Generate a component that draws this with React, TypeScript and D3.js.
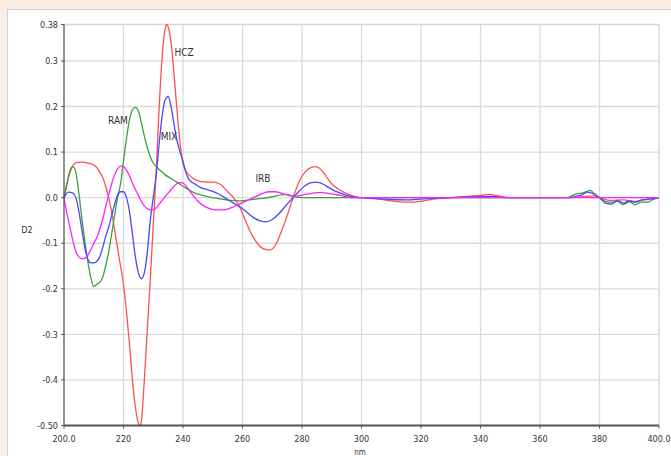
import React from "react";
import * as d3 from "d3";

const hczNm = [200,201,202,203,204,206,208,210,211,212,213,214,215,216,217,218,219,220,221,222,223,224,225,225.5,226,227,228,229,230,231,232,233,234,234.5,235,236,237,238,239,240,241,242,244,246,248,250,252,253,254,255,256,257,259,261,263,265,267,269,271,273,275,277,279,281,283,284.5,286,288,290,292,294,296,298,300,305,310,315,320,324,330,336,340,343,346,350,370,374,378,380,384,388,392,396,400];
const hczVal = [0,0.03,0.055,0.07,0.077,0.078,0.076,0.072,0.066,0.056,0.045,0.025,0.0,-0.03,-0.07,-0.11,-0.15,-0.19,-0.25,-0.32,-0.4,-0.46,-0.495,-0.5,-0.49,-0.4,-0.29,-0.18,-0.06,0.06,0.2,0.31,0.37,0.38,0.375,0.34,0.27,0.19,0.12,0.075,0.058,0.05,0.04,0.035,0.034,0.034,0.031,0.027,0.02,0.013,0.007,0.0,-0.02,-0.05,-0.08,-0.1,-0.112,-0.115,-0.105,-0.075,-0.04,0.0,0.035,0.056,0.066,0.068,0.064,0.048,0.03,0.02,0.012,0.006,0.002,0,-0.002,-0.007,-0.01,-0.008,-0.003,0,0.003,0.005,0.007,0.004,0,0,0.002,0.004,0,-0.006,-0.005,-0.008,-0.003,0];

const mixNm = [200,201.5,203,204,205,206,207,208,209,210,211,212,213,214,215,216,217,218,219,220,221,222,223,224,225,226,227,228,229,230,231,232,233,234,235,236,237,238,239,240,241,242,244,246,248,250,252,254,256,258,260,262,264,266,268,270,272,274,276,277,279,281,283,285,287,289,291,293,295,298,300,310,316,322,330,340,344,348,370,372,374,376,378,380,382,384,386,388,390,392,394,396,400];
const mixVal = [0,0.012,0.01,0.0,-0.03,-0.07,-0.11,-0.135,-0.143,-0.143,-0.14,-0.13,-0.11,-0.085,-0.065,-0.04,-0.015,0.005,0.013,0.013,0.0,-0.03,-0.08,-0.13,-0.165,-0.178,-0.165,-0.12,-0.05,0.0,0.05,0.12,0.18,0.215,0.222,0.2,0.16,0.125,0.1,0.08,0.055,0.04,0.03,0.022,0.018,0.014,0.008,0.0,-0.008,-0.016,-0.024,-0.035,-0.045,-0.051,-0.053,-0.048,-0.037,-0.022,-0.007,0.0,0.014,0.026,0.033,0.034,0.03,0.022,0.015,0.01,0.005,0.001,0,-0.004,-0.005,-0.002,0,0.002,0.003,0,0,0.003,0.006,0.012,0.008,0.0,-0.012,-0.014,-0.006,-0.012,-0.007,-0.01,-0.005,-0.004,0];

const ramNm = [200,201,202,203,204,205,206,207,208,209,210,211,212,213,214,215,216,217,218,219,220,221,222,223,224,225,226,227,228,229,230,231,232,234,236,238,240,242,244,246,248,250,253,256,259,262,266,270,273,275,277,280,300,368,370,372,374,376,377,378,380,382,384,386,388,390,392,394,396,398,400];
const ramVal = [0,0.03,0.06,0.068,0.055,0.01,-0.045,-0.095,-0.14,-0.175,-0.195,-0.19,-0.186,-0.175,-0.15,-0.12,-0.08,-0.04,0.0,0.03,0.08,0.13,0.17,0.193,0.198,0.19,0.165,0.135,0.11,0.09,0.076,0.068,0.062,0.05,0.042,0.034,0.025,0.017,0.01,0.006,0.003,0.0,-0.003,-0.006,-0.007,-0.005,-0.002,0.002,0.006,0.007,0.003,0.0,0,0,0.002,0.008,0.01,0.014,0.016,0.01,0.0,-0.008,-0.01,-0.008,-0.015,-0.009,-0.016,-0.01,-0.01,-0.004,0];

const irbNm = [200,201,202,203,204,205,206,207,208,209,210,211,212,213,214,215,216,217,218,219,220,221,222,223,224,225,226,227,228,229,230,231,232,233,234,235,236,237,238,239,240,241,242,243,244,245,247,249,251,253,255,257,259,261,263,265,267,269,271,273,275,277,279,281,283,285,287,289,291,293,295,297,300,400];
const irbVal = [0,-0.035,-0.065,-0.095,-0.118,-0.13,-0.134,-0.133,-0.126,-0.115,-0.1,-0.088,-0.07,-0.048,-0.02,0.005,0.03,0.05,0.063,0.069,0.068,0.06,0.048,0.032,0.018,0.005,-0.008,-0.018,-0.024,-0.027,-0.027,-0.022,-0.014,-0.006,0.002,0.01,0.018,0.025,0.031,0.033,0.032,0.026,0.017,0.008,0.0,-0.008,-0.018,-0.024,-0.027,-0.027,-0.025,-0.02,-0.014,-0.008,-0.002,0.004,0.01,0.013,0.013,0.01,0.006,0.003,0.004,0.007,0.009,0.011,0.011,0.009,0.007,0.005,0.002,0.0,0,0];

const yTicks = [0.38, 0.3, 0.2, 0.1, 0.0, -0.1, -0.2, -0.3, -0.4, -0.5];
const yTickLabels = ["0.38", "0.3", "0.2", "0.1", "0.0", "-0.1", "-0.2", "-0.3", "-0.4", "-0.50"];
const xTicks = [200, 220, 240, 260, 280, 300, 320, 340, 360, 380, 400];
const xTickLabels = ["200.0", "220", "240", "260", "280", "300", "320", "340", "360", "380", "400.0"];

const seriesList = [
  { name: "HCZ", nm: hczNm, val: hczVal, color: "#ff5050", label: [184, 56] },
  { name: "RAM", nm: ramNm, val: ramVal, color: "#3ca03c", label: [118, 124] },
  { name: "MIX", nm: mixNm, val: mixVal, color: "#4848ff", label: [169, 140] },
  { name: "IRB", nm: irbNm, val: irbVal, color: "#ff20ff", label: [263, 182] },
];

const W = 671, H = 456;
const FONT = "'Liberation Sans Narrow', 'Arial Narrow', 'DejaVu Sans Condensed', sans-serif";

export default function App() {
  const x = d3.scaleLinear().domain([200, 400]).range([64, 659]);
  const y = d3.scaleLinear().domain([-0.5, 0.38]).range([425.5, 24.5]);
  const line = d3.line<[number, number]>().x(d => x(d[0])).y(d => y(d[1])).curve(d3.curveMonotoneX);
  const [x0, x1] = x.range();
  const [yb, yt] = y.range();
  return (
    <div style={{ position: "absolute", left: 0, top: 0 }}>
      <svg width={W} height={H} style={{ display: "block" }}>
        <rect x={0} y={0} width={W} height={H} fill="#fbede2" />
        <rect x={7.5} y={9.5} width={W} height={H} fill="#ffffff" stroke="#d0d0d0" strokeWidth={1} />
        {yTicks.slice(1, -1).map((t, i) => (
          <line key={"gy" + i} x1={x0} x2={x1} y1={y(t)} y2={y(t)} stroke="#dadada" strokeWidth={1.3} />
        ))}
        {xTicks.slice(1, -1).map((t, i) => (
          <line key={"gx" + i} x1={x(t)} x2={x(t)} y1={yt} y2={yb} stroke="#dadada" strokeWidth={1.3} />
        ))}
        <line x1={x0} x2={x1} y1={yt} y2={yt} stroke="#d4d4d4" strokeWidth={1.3} />
        <line x1={x1} x2={x1} y1={yt} y2={yb} stroke="#d4d4d4" strokeWidth={1.3} />
        {seriesList.map(s => (
          <path key={s.name} d={line(s.nm.map((n, i) => [n, s.val[i]] as [number, number])) || ""}
            fill="none" stroke={s.color} strokeWidth={1.3} />
        ))}
        <line x1={x0} x2={x0} y1={yt} y2={yb} stroke="#555" strokeWidth={1.3} />
        <line x1={x0} x2={x1} y1={yb} y2={yb} stroke="#555" strokeWidth={2} />
        {yTicks.map((t, i) => (
          <g key={"yt" + i}>
            <line x1={x0 - 3} x2={x0} y1={y(t)} y2={y(t)} stroke="#555" strokeWidth={1} />
            <text x={x0 - 6} y={y(t)} dy="0.35em" textAnchor="end" fontSize={9} fill="#333" fontFamily={FONT}>{yTickLabels[i]}</text>
          </g>
        ))}
        {xTicks.map((t, i) => (
          <g key={"xt" + i}>
            <line x1={x(t)} x2={x(t)} y1={yb} y2={yb + 3} stroke="#555" strokeWidth={1} />
            <text x={x(t)} y={yb + 16} textAnchor="middle" fontSize={9} fill="#333" fontFamily={FONT}>{xTickLabels[i]}</text>
          </g>
        ))}
        <text x={27} y={233} textAnchor="middle" fontSize={9} fill="#333" fontFamily={FONT}>D2</text>
        <text x={360} y={454.5} textAnchor="middle" fontSize={8} fill="#333" fontFamily={FONT}>nm</text>
        {seriesList.map(s => (
          <text key={"l" + s.name} x={s.label[0]} y={s.label[1]} textAnchor="middle" fontSize={10} fill="#333" fontFamily={FONT}>{s.name}</text>
        ))}
      </svg>
    </div>
  );
}
